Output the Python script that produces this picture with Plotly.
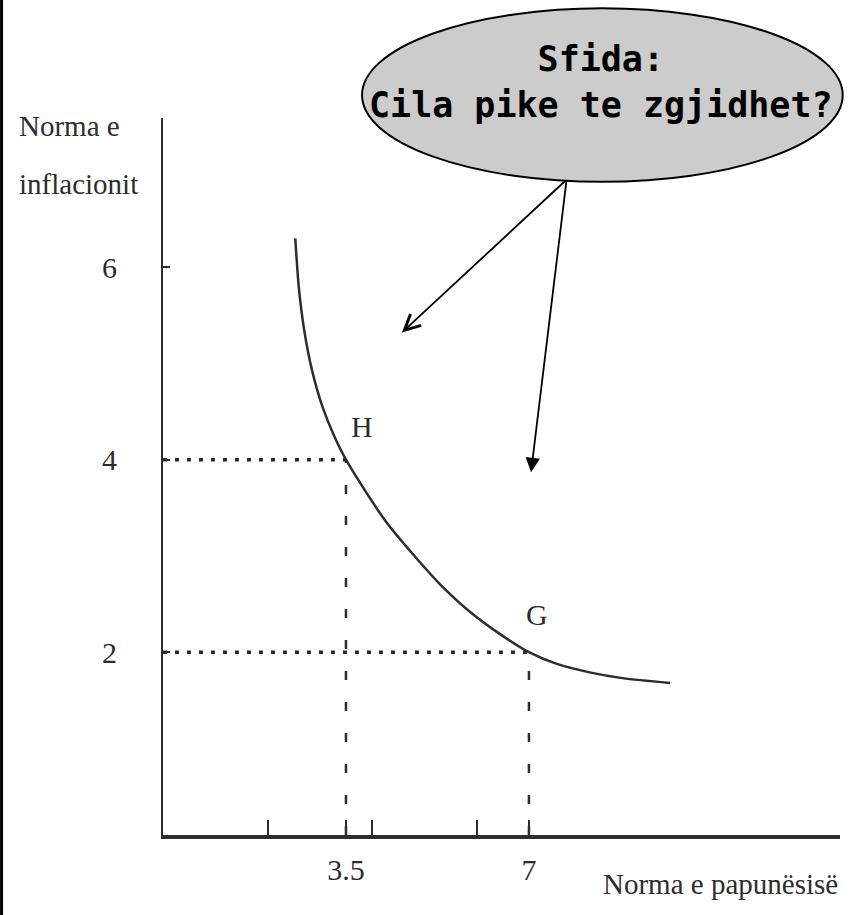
import plotly.graph_objects as go

# Phillips curve (unemployment %, inflation %)
curve_x = [2.53, 2.60, 2.70, 2.85, 3.05, 3.27, 3.5, 4.26, 4.89, 5.31, 5.87, 6.44, 7.0, 7.52, 8.16, 8.79, 9.70]
curve_y = [6.3, 5.78, 5.35, 4.93, 4.55, 4.25, 4.0, 3.36, 2.95, 2.70, 2.42, 2.19, 2.0, 1.88, 1.79, 1.73, 1.68]

# marked points on the curve
point_names = ["H", "G"]
point_x = [3.5, 7.0]
point_y = [4.0, 2.0]

# axis ticks
x_tickvals = [2, 3.5, 4, 6, 7]
x_ticktext = ["", "3.5", "", "", "7"]
y_tickvals = [2, 4, 6]
y_ticktext = ["2", "4", "6"]

# arrows from the callout: tail, then the two tips
arrow_tail = (7.72, 6.91)
arrow_tips_x = [4.57, 7.04]
arrow_tips_y = [5.32, 3.87]

ink = 'rgb(45,45,45)'
serif = "Liberation Serif"
x_range = [0, 12.95]
y_range = [0.1, 7.55]

fig = go.Figure()

# dotted guides to the inflation axis, dashed guides down to the unemployment axis
for px, py in zip(point_x, point_y):
    fig.add_trace(go.Scatter(x=[x_range[0], px], y=[py, py], mode='lines',
                             line=dict(color=ink, width=3.5, dash='4px,8px'),
                             hoverinfo='skip', showlegend=False))
    fig.add_trace(go.Scatter(x=[px, px], y=[y_range[0], py], mode='lines',
                             line=dict(color=ink, width=2.5, dash='9px,22px'),
                             hoverinfo='skip', showlegend=False))

fig.add_trace(go.Scatter(x=curve_x, y=curve_y, mode='lines',
                         line=dict(color=ink, width=2.5, shape='spline', smoothing=0.8),
                         showlegend=False))

# point letters, nudged up-right of each point
for name, px, py, dx, dy in zip(point_names, point_x, point_y, [16, 8], [33, 38]):
    fig.add_annotation(x=px, y=py, text=name, showarrow=False, xshift=dx, yshift=dy,
                       font=dict(family=serif, size=30, color=ink))

# axis titles
fig.add_annotation(xref='paper', yref='paper', x=-0.215, y=0.989, xanchor='left', yanchor='middle',
                   text="Norma e", showarrow=False, font=dict(family=serif, size=29, color=ink))
fig.add_annotation(xref='paper', yref='paper', x=-0.215, y=0.908, xanchor='left', yanchor='middle',
                   text="inflacionit", showarrow=False, font=dict(family=serif, size=29, color=ink))
fig.add_annotation(xref='paper', yref='paper', x=1.0, y=-0.068, xanchor='right', yanchor='middle',
                   text="Norma e papunësisë", showarrow=False,
                   font=dict(family=serif, size=29, color=ink))

# callout bubble
fig.add_shape(type='circle', xref='paper', yref='paper', x0=0.294, x1=1.004, y0=0.911, y1=1.153,
              fillcolor='rgb(204,204,204)', line=dict(color='black', width=2), layer='above')
fig.add_annotation(xref='paper', yref='paper', x=0.647, y=1.05, xanchor='center', yanchor='middle',
                   text="<b>Sfida:<br>Cila pike te zgjidhet?</b>", showarrow=False,
                   font=dict(family="DejaVu Sans Mono", size=35, color='black'))

# arrows from the bubble into the chart
for tx, ty, head, size in zip(arrow_tips_x, arrow_tips_y, [5, 2], [1.7, 1.6]):
    fig.add_annotation(x=tx, y=ty, ax=arrow_tail[0], ay=arrow_tail[1], axref='x', ayref='y',
                       text="", showarrow=True, arrowhead=head, arrowsize=size,
                       arrowwidth=1.8, arrowcolor='black')

# black edge line on the left of the slide
fig.add_shape(type='line', xref='paper', yref='paper', x0=-0.2385, x1=-0.2385, y0=-0.12, y1=1.17,
              line=dict(color='black', width=3))

fig.update_layout(
        width=856, height=915, autosize=False,
        margin=dict(l=163, r=16, t=118, b=80),
        plot_bgcolor='rgb(255, 255, 255)',
        paper_bgcolor='rgb(255, 255, 255)',
        xaxis=dict(range=x_range, showgrid=False, zeroline=False,
                   showline=True, linecolor=ink, linewidth=3.5,
                   ticks='inside', ticklen=15, tickwidth=1.5, tickcolor=ink,
                   tickvals=x_tickvals, ticktext=x_ticktext, ticklabelstandoff=5,
                   tickfont=dict(family=serif, size=30, color=ink)),
        yaxis=dict(range=y_range, showgrid=False, zeroline=False,
                   showline=True, linecolor=ink, linewidth=1.8,
                   ticks='inside', ticklen=7, tickwidth=1.5, tickcolor=ink,
                   tickvals=y_tickvals, ticktext=y_ticktext, ticklabelstandoff=38,
                   tickfont=dict(family=serif, size=30, color=ink)),
)

# drop the default body margin so the figure fills the window
fig.write_html("out.html", config={'displayModeBar': False},
               post_script="document.body.style.margin='0';")
